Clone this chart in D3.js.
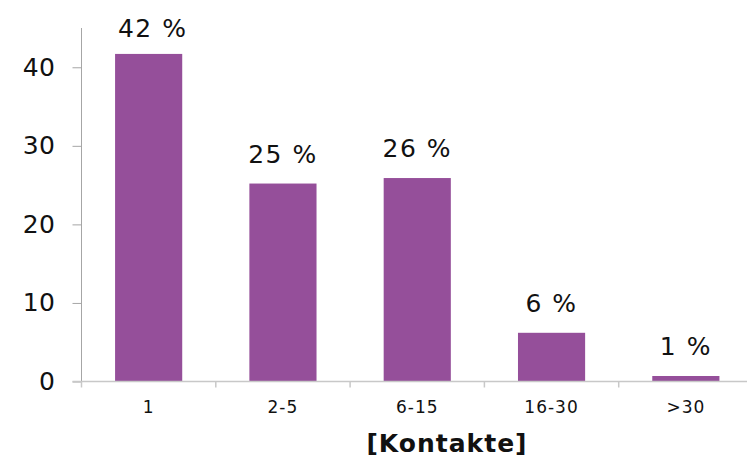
<!DOCTYPE html>
<html><head><meta charset="utf-8">
<script src="https://cdn.jsdelivr.net/npm/d3@7"></script>
<style>html,body{margin:0;padding:0;background:#fff;}svg{display:block;font-family:"DejaVu Sans",Verdana,sans-serif;}</style>
</head><body>
<svg id="c" width="747" height="459"></svg>
<script>
const categories = ["1", "2-5", "6-15", "16-30", ">30"];
const values = [41.7, 25.2, 25.9, 6.2, 0.7];
const labels = ["42 %", "25 %", "26 %", "6 %", "1 %"];
const yTicks = [0, 10, 20, 30, 40];
const xTitle = "[Kontakte]";

const svg = d3.select("#c");
const m = {left: 81.5, right: 753, top: 28, bottom: 381.5};
const x = d3.scaleBand().domain(categories).range([m.left, m.right]).paddingInner(0.5).paddingOuter(0.25);
const y = d3.scaleLinear().domain([0, 45]).range([m.bottom, m.top]);
const axisColor = "#c8c8c8";

// bars
svg.append("g").selectAll("rect").data(values).join("rect")
  .attr("x", (d, i) => x(categories[i]))
  .attr("width", x.bandwidth())
  .attr("y", d => y(d))
  .attr("height", d => y(0) - y(d))
  .attr("fill", "#954f9a");

// y axis
const ya = svg.append("g").attr("transform", `translate(${m.left},0)`)
  .call(d3.axisLeft(y).tickValues(yTicks).tickSize(9).tickPadding(17));
ya.select(".domain").attr("stroke", "#a6a6a6").attr("d", `M0,${m.top}V${m.bottom}`);
ya.selectAll(".tick line").attr("stroke", "#a6a6a6");
ya.selectAll(".tick text").attr("fill", "#111").style("font-size", "25px").style("letter-spacing", "0.5px")
  .style("font-family", "DejaVu Sans, Verdana, sans-serif");

// x axis
const step = x.step();
const bounds = d3.range(categories.length + 1).map(i => m.left + i * step);
svg.append("line").attr("x1", m.left - 9).attr("x2", 747).attr("y1", m.bottom).attr("y2", m.bottom)
  .attr("stroke", axisColor).attr("stroke-width", 1.5);
svg.append("g").selectAll("line").data(bounds).join("line")
  .attr("x1", d => d).attr("x2", d => d).attr("y1", m.bottom).attr("y2", m.bottom + 6)
  .attr("stroke", axisColor).attr("stroke-width", 1.5);
svg.append("g").selectAll("text").data(categories).join("text")
  .attr("x", d => x(d) + x.bandwidth() / 2).attr("y", 413)
  .attr("text-anchor", "middle").attr("fill", "#111").style("font-size", "17px").style("letter-spacing", "1px")
  .text(d => d);

// value labels
svg.append("g").selectAll("text").data(values).join("text")
  .attr("x", (d, i) => x(categories[i]) + x.bandwidth() / 2 + (i === 0 ? 4 : 0))
  .attr("y", d => Math.max(y(d) - 21, 37))
  .attr("text-anchor", "middle").attr("fill", "#111").style("font-size", "25px").style("letter-spacing", "1.5px")
  .text((d, i) => labels[i]);

// title
svg.append("text").attr("x", 447).attr("y", 452).attr("text-anchor", "middle")
  .attr("fill", "#111").style("font-size", "25px").style("font-weight", "bold").style("letter-spacing", "1px")
  .text(xTitle);
</script>
</body></html>
